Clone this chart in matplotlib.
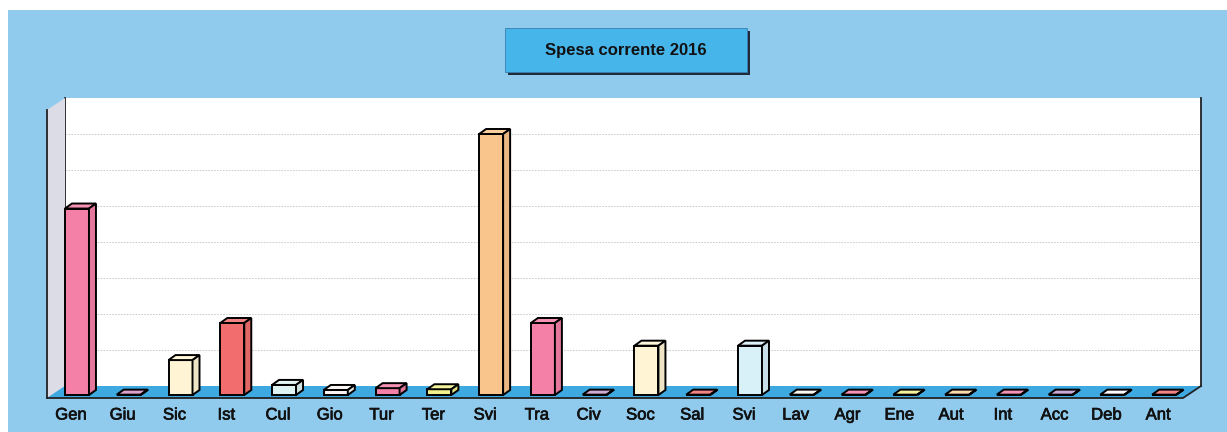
import matplotlib
matplotlib.use('Agg')
import matplotlib.pyplot as plt
import matplotlib.patheffects as pe
from matplotlib.patches import Rectangle, Polygon
import numpy as np

# category labels and values (in gridline units)
labels = ["Gen", "Giu", "Sic", "Ist", "Cul", "Gio", "Tur", "Ter", "Svi", "Tra", "Civ",
          "Soc", "Sal", "Svi", "Lav", "Agr", "Ene", "Aut", "Int", "Acc", "Deb", "Ant"]
values = [5.18, 0.01, 0.97, 2.0, 0.28, 0.14, 0.19, 0.16, 7.25, 2.0, 0.01,
          1.37, 0.01, 1.37, 0.01, 0.01, 0.01, 0.01, 0.01, 0.01, 0.01, 0.01]
colors = ["#f480a8", "#d890c4", "#fff5d4", "#f26e6e", "#def4f2", "#fbf3f3", "#f480a8",
          "#f2f08c", "#f9c58c", "#f480a8", "#c89ac8", "#fff5d4", "#f26e6e", "#d8f0f8",
          "#fdf8ee", "#f480a8", "#f2f08c", "#fbd3a0", "#f480a8", "#c09ad0", "#fdfafa",
          "#f26e6e"]
title = "Spesa corrente 2016"

W, H = 1227, 432
fig = plt.figure(figsize=(W / 100, H / 100), dpi=100)
fig.patch.set_facecolor("white")

# light blue background panel
fig.add_artist(Rectangle((8 / W, 0), 1, 1 - 10 / H, transform=fig.transFigure,
                         facecolor="#90cbee", edgecolor="none", zorder=0))

# title box with shadow
bx0, bx1, by0, by1 = 505, 747, 28, 72
fig.add_artist(Rectangle(((bx0 + 3) / W, 1 - (by1 + 3) / H), (bx1 - bx0) / W, (by1 - by0) / H,
                         transform=fig.transFigure, facecolor="#1f2a3a", edgecolor="none", zorder=1))
fig.add_artist(Rectangle((bx0 / W, 1 - by1 / H), (bx1 - bx0) / W, (by1 - by0) / H,
                         transform=fig.transFigure, facecolor="#46b5ea", edgecolor="#3a7fb0",
                         lw=0.6, zorder=2))
fig.text((bx0 + bx1) / 2 / W, 1 - (by0 + by1) / 2 / H, title, ha="center", va="center",
         fontsize=12, fontweight="bold", family="Liberation Sans", color="#111111", zorder=3)

# axes = front plane of the 3D box
left_px, right_px, base_px, top_px = 47, 1183, 398, 110
ax = fig.add_axes([left_px / W, 1 - base_px / H, (right_px - left_px) / W, (base_px - top_px) / H])
ax.axis("off")
xmin, xmax = -0.463, 21.48
ymax = 8
ax.set_xlim(xmin, xmax)
ax.set_ylim(0, ymax)

ux = (xmax - xmin) / (right_px - left_px)
uy = ymax / (base_px - top_px)
wdx, wdy = 18 * ux, 12 * uy   # wall depth
bdx, bdy = 7 * ux, 5 * uy     # bar depth
bw = 24 * ux
boff = -0.116
bshift = 3 * uy

# back wall
ax.add_patch(Rectangle((xmin + wdx, wdy), xmax - xmin, ymax, facecolor="white",
                       edgecolor="none", zorder=1, clip_on=False))
for k in range(1, ymax):
    ax.plot([xmin + wdx, xmax + wdx], [k + wdy, k + wdy], color="#c4c4c4", lw=0.6,
            ls=(0, (2, 1.5)), zorder=1.5, clip_on=False)
ax.plot([xmin + wdx, xmin + wdx], [wdy, ymax + wdy], color="#222222", lw=1.3, zorder=2, clip_on=False)
ax.plot([xmax + wdx, xmax + wdx], [wdy, ymax + wdy], color="#222222", lw=1.3, zorder=2, clip_on=False)

# left wall
ax.add_patch(Polygon([(xmin, 0), (xmin, ymax), (xmin + wdx, ymax + wdy), (xmin + wdx, wdy)],
                     closed=True, facecolor="#dcdce6", edgecolor="none", zorder=2, clip_on=False))
ax.plot([xmin, xmin], [0, ymax], color="#222222", lw=1.3, zorder=3, clip_on=False)

# floor
ax.add_patch(Polygon([(xmin, 0), (xmax, 0), (xmax + wdx, wdy), (xmin + wdx, wdy)],
                     closed=True, facecolor="#3ea8e0", edgecolor="none", zorder=2, clip_on=False))
ax.plot([xmin, xmax, xmax + wdx], [0, 0, wdy], color="#222222", lw=1.3, zorder=3, clip_on=False)


def shade(c, f):
    rgb = np.array(matplotlib.colors.to_rgb(c))
    if f < 1:
        return tuple(rgb * f)
    return tuple(rgb + (1 - rgb) * (f - 1))


# 3D bars
for i, (v, c) in enumerate(zip(values, colors)):
    x0 = i + boff
    y0 = bshift
    ax.bar(x0, v, width=bw, bottom=y0, align="edge", color=c, edgecolor="black",
           lw=1.4, zorder=5, clip_on=False)
    ax.add_patch(Polygon([(x0, y0 + v), (x0 + bw, y0 + v), (x0 + bw + bdx, y0 + v + bdy),
                          (x0 + bdx, y0 + v + bdy)], closed=True, facecolor=shade(c, 1.15),
                         edgecolor="black", lw=1.4, zorder=5, clip_on=False))
    ax.add_patch(Polygon([(x0 + bw, y0), (x0 + bw, y0 + v), (x0 + bw + bdx, y0 + v + bdy),
                          (x0 + bw + bdx, y0 + bdy)], closed=True, facecolor=shade(c, 0.93),
                         edgecolor="black", lw=1.4, zorder=5, clip_on=False))
    ax.text(i, -17 * uy, labels[i], ha="center", va="center", fontsize=12,
            family="Liberation Sans", color="#111111", clip_on=False,
            path_effects=[pe.withStroke(linewidth=0.5, foreground="#111111")])

fig.savefig("out.png", dpi=100)
